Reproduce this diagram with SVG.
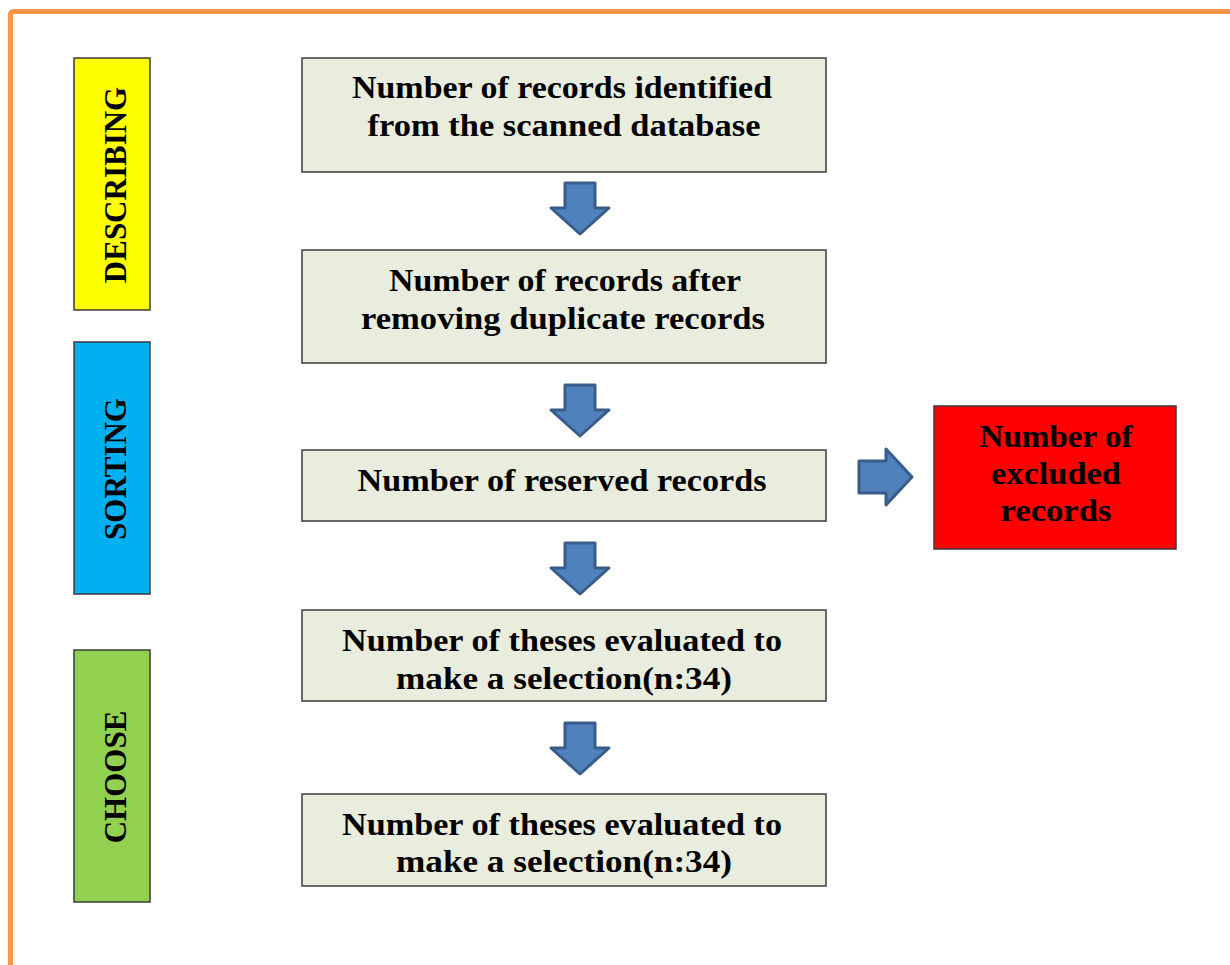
<svg xmlns="http://www.w3.org/2000/svg" width="1230" height="965" viewBox="0 0 1230 965">
<style>
.box{fill:#E9EDDE;stroke:#3a3a3a;stroke-width:1.5}
.t{font-family:"Liberation Serif",serif;font-weight:bold;font-size:31px;text-anchor:middle;fill:#000}
.v{font-family:"Liberation Serif",serif;font-weight:bold;font-size:31px;text-anchor:middle;fill:#000}
.arr{fill:#4F81BD;stroke:#385D8A;stroke-width:3;stroke-linejoin:round}
</style>
<rect width="1230" height="965" fill="#fff"/>
<rect x="10.5" y="11.5" width="1240" height="1000" rx="3" fill="none" stroke="#F79646" stroke-width="5"/>
<g id="stage-describing">
<rect x="74" y="58" width="76" height="252" fill="#FFFF00" stroke="#3a3a3a" stroke-width="1.5"/>
<text class="v" transform="translate(126,185) rotate(-90)">DESCRIBING</text>
</g>
<g id="stage-sorting">
<rect x="74" y="342" width="76" height="252" fill="#00B0F0" stroke="#3a3a3a" stroke-width="1.5"/>
<text class="v" transform="translate(126,469) rotate(-90)">SORTING</text>
</g>
<g id="stage-choose">
<rect x="74" y="650" width="76" height="252" fill="#92D050" stroke="#3a3a3a" stroke-width="1.5"/>
<text class="v" transform="translate(126,777) rotate(-90)">CHOOSE</text>
</g>
<g id="box1">
<rect class="box" x="302" y="58" width="524" height="114"/>
<text class="t" x="562" y="98" textLength="420" lengthAdjust="spacingAndGlyphs">Number of records identified</text>
<text class="t" x="564" y="136" textLength="393" lengthAdjust="spacingAndGlyphs">from the scanned database</text>
</g>
<g id="box2">
<rect class="box" x="302" y="250" width="524" height="113"/>
<text class="t" x="565" y="291" textLength="352" lengthAdjust="spacingAndGlyphs">Number of records after</text>
<text class="t" x="563" y="329" textLength="404" lengthAdjust="spacingAndGlyphs">removing duplicate records</text>
</g>
<g id="box3">
<rect class="box" x="302" y="450" width="524" height="71"/>
<text class="t" x="562" y="491" textLength="409" lengthAdjust="spacingAndGlyphs">Number of reserved records</text>
</g>
<g id="box4">
<rect class="box" x="302" y="610" width="524" height="91"/>
<text class="t" x="562" y="651" textLength="440" lengthAdjust="spacingAndGlyphs">Number of theses evaluated to</text>
<text class="t" x="564" y="689" textLength="336" lengthAdjust="spacingAndGlyphs">make a selection(n:34)</text>
</g>
<g id="box5">
<rect class="box" x="302" y="794" width="524" height="92"/>
<text class="t" x="562" y="835" textLength="440" lengthAdjust="spacingAndGlyphs">Number of theses evaluated to</text>
<text class="t" x="564" y="872" textLength="336" lengthAdjust="spacingAndGlyphs">make a selection(n:34)</text>
</g>
<g id="excluded">
<rect x="934" y="406" width="242" height="143" fill="#FF0000" stroke="#3a3a3a" stroke-width="1.5"/>
<text class="t" x="1056" y="447" textLength="153" lengthAdjust="spacingAndGlyphs">Number of</text>
<text class="t" x="1056" y="484" textLength="130" lengthAdjust="spacingAndGlyphs">excluded</text>
<text class="t" x="1056" y="521" textLength="111" lengthAdjust="spacingAndGlyphs">records</text>
</g>
<g id="connectors">
<path class="arr" d="M565,183 H595 V208 H609 L580,234 L551,208 H565 Z"/>
<path class="arr" d="M565,385 H595 V410 H609 L580,436 L551,410 H565 Z"/>
<path class="arr" d="M565,543 H595 V568 H609 L580,594 L551,568 H565 Z"/>
<path class="arr" d="M565,723 H595 V748 H609 L580,774 L551,748 H565 Z"/>
<path class="arr" d="M859,461 H886 V449 L912,477 L886,505 V493 H859 Z"/>
</g>
</svg>
